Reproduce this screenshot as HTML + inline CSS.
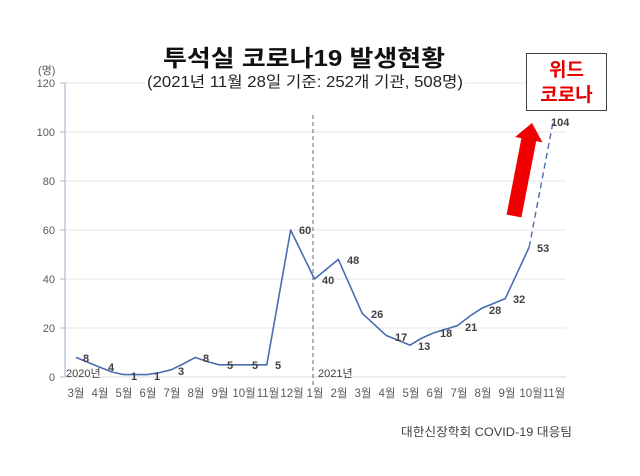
<!DOCTYPE html>
<html><head><meta charset="utf-8"><style>
html,body{margin:0;padding:0;background:#fff;}
svg{display:block;}
text{font-family:"Liberation Sans","Noto Sans CJK KR",sans-serif;}
</style></head><body>
<svg width="640" height="476" viewBox="0 0 640 476" xmlns="http://www.w3.org/2000/svg">
<rect width="640" height="476" fill="#fff"/>
<!-- gridlines -->
<g stroke="#e4e4e4" stroke-width="1">
<line x1="65" y1="83" x2="566" y2="83"/>
<line x1="65" y1="132" x2="566" y2="132"/>
<line x1="65" y1="181" x2="566" y2="181"/>
<line x1="65" y1="230" x2="566" y2="230"/>
<line x1="65" y1="279" x2="566" y2="279"/>
<line x1="65" y1="328" x2="566" y2="328"/>
</g>
<line x1="65" y1="377" x2="566" y2="377" stroke="#d9d9d9" stroke-width="1"/>
<!-- y axis -->
<line x1="65" y1="83" x2="65" y2="377" stroke="#a9b9d0" stroke-width="1.2"/>
<g stroke="#a9b9d0" stroke-width="1">
<line x1="60" y1="83" x2="65" y2="83"/>
<line x1="60" y1="132" x2="65" y2="132"/>
<line x1="60" y1="181" x2="65" y2="181"/>
<line x1="60" y1="230" x2="65" y2="230"/>
<line x1="60" y1="279" x2="65" y2="279"/>
<line x1="60" y1="328" x2="65" y2="328"/>
<line x1="60" y1="377" x2="65" y2="377"/>
</g>
<g font-size="11" fill="#595959" text-anchor="end">
<text x="55" y="87">120</text>
<text x="55" y="136">100</text>
<text x="55" y="185">80</text>
<text x="55" y="234">60</text>
<text x="55" y="283">40</text>
<text x="55" y="332">20</text>
<text x="55" y="381">0</text>
</g>
<text x="38" y="74" font-size="11" fill="#595959">(명)</text>

<!-- subtitle background & titles -->
<rect x="145" y="72" width="320" height="20" fill="#fff"/>
<text x="304" y="66" font-size="23" font-weight="bold" fill="#111" text-anchor="middle" textLength="282" lengthAdjust="spacingAndGlyphs">투석실 코로나19 발생현황</text>
<text x="305" y="87" font-size="15.5" fill="#222" text-anchor="middle" textLength="316" lengthAdjust="spacingAndGlyphs">(2021년 11월 28일 기준: 252개 기관, 508명)</text>

<!-- vertical dashed year separator -->
<line x1="313" y1="115" x2="313" y2="386" stroke="#7f7f7f" stroke-width="1.2" stroke-dasharray="4,3"/>

<!-- series -->
<polyline fill="none" stroke="#4a6cb0" stroke-width="1.6" stroke-linejoin="round"
points="76,357.4 99.85,367.2 112,372 123.7,374.6 147.55,374.6 160,372.5 171.4,369.7 183,364 195.25,357.4 207,361.5 219.1,364.8 242.95,364.8 266.8,364.8 290.65,230 314.5,279 338.35,259.4 362.2,313.3 386.05,335.35 409.9,345.15 422,338 433.75,332.9 457.6,325.55 470,316 481.45,308.4 505.3,298.6 529.15,247.15"/>
<line x1="529.15" y1="247.15" x2="553" y2="122.2" stroke="#4a6cb0" stroke-width="1.4" stroke-dasharray="6,4"/>

<!-- data labels -->
<g font-size="11" font-weight="bold" fill="#404040">
<text x="83" y="362">8</text>
<text x="108" y="371">4</text>
<text x="131" y="380">1</text>
<text x="154" y="380">1</text>
<text x="178" y="375">3</text>
<text x="203" y="362">8</text>
<text x="227" y="369">5</text>
<text x="252" y="369">5</text>
<text x="275" y="369">5</text>
<text x="299" y="234">60</text>
<text x="322" y="284">40</text>
<text x="347" y="264">48</text>
<text x="371" y="318">26</text>
<text x="395" y="341">17</text>
<text x="418" y="350">13</text>
<text x="440" y="337">18</text>
<text x="465" y="331">21</text>
<text x="489" y="314">28</text>
<text x="513" y="303">32</text>
<text x="537" y="252">53</text>
<text x="551" y="126">104</text>
</g>

<!-- year labels -->
<text x="66" y="377" font-size="11" fill="#404040">2020년</text>
<text x="318" y="377" font-size="11" fill="#404040">2021년</text>

<!-- x labels -->
<g font-size="11.5" fill="#595959" text-anchor="middle">
<text x="76" y="397">3월</text>
<text x="100" y="397">4월</text>
<text x="124" y="397">5월</text>
<text x="148" y="397">6월</text>
<text x="172" y="397">7월</text>
<text x="196" y="397">8월</text>
<text x="220" y="397">9월</text>
<text x="244" y="397">10월</text>
<text x="268" y="397">11월</text>
<text x="292" y="397">12월</text>
<text x="315" y="397">1월</text>
<text x="339" y="397">2월</text>
<text x="363" y="397">3월</text>
<text x="387" y="397">4월</text>
<text x="411" y="397">5월</text>
<text x="435" y="397">6월</text>
<text x="459" y="397">7월</text>
<text x="483" y="397">8월</text>
<text x="507" y="397">9월</text>
<text x="531" y="397">10월</text>
<text x="554" y="397">11월</text>
</g>

<!-- red arrow -->
<polygon fill="#f00000" points="521.4,217.4 536.2,141.1 542.5,142.4 532,123 515.1,137 521.4,138.3 506.6,214.6"/>

<!-- box -->
<rect x="526.5" y="53.5" width="80" height="57" fill="#fff" stroke="#404040" stroke-width="1"/>
<text x="566.5" y="76" font-size="19" font-weight="bold" fill="#e60000" text-anchor="middle">위드</text>
<text x="566.5" y="101" font-size="19" font-weight="bold" fill="#e60000" text-anchor="middle">코로나</text>

<!-- footer -->
<text x="401" y="436" font-size="12" fill="#404040" textLength="171" lengthAdjust="spacingAndGlyphs">대한신장학회 COVID-19 대응팀</text>
</svg>
</body></html>
